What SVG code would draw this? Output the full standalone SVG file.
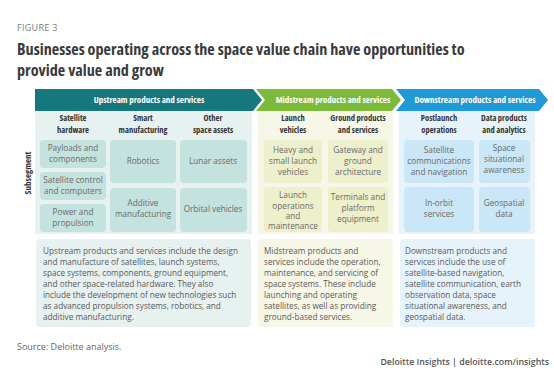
<svg xmlns="http://www.w3.org/2000/svg" width="554" height="383" viewBox="0 0 554 383">
<style>
.fig{font-family:"Open Sans","Liberation Sans",sans-serif;font-size:9px;fill:#7a7a7a;letter-spacing:0.3px}
.title{font-family:"Open Sans","Liberation Sans",sans-serif;font-stretch:condensed;font-weight:bold;font-size:16.2px;fill:#3a3a3a}
.hdr{font-family:"Open Sans","Liberation Sans",sans-serif;font-stretch:condensed;font-weight:bold;font-size:9px;fill:#ffffff;text-anchor:middle}
.col{font-family:"Open Sans","Liberation Sans",sans-serif;font-stretch:condensed;font-weight:bold;font-size:8.5px;fill:#333;text-anchor:middle}
.seg{font-family:"Open Sans","Liberation Sans",sans-serif;font-stretch:condensed;font-weight:bold;font-size:9px;fill:#333;text-anchor:middle}
.sub{font-family:"Open Sans","Liberation Sans",sans-serif;font-size:8.2px;fill:#6a6a6a;text-anchor:middle}
.desc{font-family:"Open Sans","Liberation Sans",sans-serif;font-size:8.2px;fill:#5a5a5a}
.foot{font-family:"Open Sans","Liberation Sans",sans-serif;font-size:9px;fill:#666}
.brand{font-family:"Open Sans","Liberation Sans",sans-serif;font-size:8.8px;font-weight:600;fill:#555;text-anchor:end}
.up-p{fill:#e6f1f0}.up-b{fill:#c4e3df}
.mid-p{fill:#f6f7e6}.mid-b{fill:#eef0cc}
.dn-p{fill:#e7f3fb}.dn-b{fill:#c9e7f6}
</style>
<text class="fig" x="17" y="31">FIGURE 3</text>
<text class="title" x="17" y="55">Businesses operating across the space value chain have opportunities to</text>
<text class="title" x="17" y="75.5">provide value and grow</text>

<g id="subsegment-label"><text class="seg" transform="translate(31,173) rotate(-90)">Subsegment</text></g>

<g id="upstream">
<polygon points="35,89 253,89 262,100 253,111 35,111" fill="#16777d"/>
<text class="hdr" x="149" y="103">Upstream products and services</text>
<rect class="up-p" x="35" y="111" width="217" height="123"/>
<text class="col" x="73" y="121">Satellite</text><text class="col" x="73" y="133">hardware</text>
<text class="col" x="143" y="121">Smart</text><text class="col" x="143" y="133">manufacturing</text>
<text class="col" x="213" y="121">Other</text><text class="col" x="213" y="133">space assets</text>
<g id="payloads"><rect class="up-b" x="40" y="140" width="66" height="28" rx="4"/><text class="sub" x="73" y="151">Payloads and</text><text class="sub" x="73" y="162">components</text></g>
<g id="satcontrol"><rect class="up-b" x="40" y="172" width="66" height="28" rx="4"/><text class="sub" x="73" y="183">Satellite control</text><text class="sub" x="73" y="194">and computers</text></g>
<g id="power"><rect class="up-b" x="40" y="204" width="66" height="28" rx="4"/><text class="sub" x="73" y="215">Power and</text><text class="sub" x="73" y="226">propulsion</text></g>
<g id="robotics"><rect class="up-b" x="110" y="140" width="66" height="43" rx="4"/><text class="sub" x="143" y="164">Robotics</text></g>
<g id="additive"><rect class="up-b" x="110" y="188" width="66" height="44" rx="4"/><text class="sub" x="143" y="206">Additive</text><text class="sub" x="143" y="217">manufacturing</text></g>
<g id="lunar"><rect class="up-b" x="180" y="140" width="67" height="43" rx="4"/><text class="sub" x="213" y="164">Lunar assets</text></g>
<g id="orbital"><rect class="up-b" x="180" y="188" width="67" height="44" rx="4"/><text class="sub" x="213" y="212">Orbital vehicles</text></g>
<g id="up-desc"><rect class="up-p" x="36" y="239" width="215" height="88" rx="4"/>
<text class="desc" x="43" y="254">Upstream products and services include the design</text>
<text class="desc" x="43" y="265">and manufacture of satellites, launch systems,</text>
<text class="desc" x="43" y="276">space systems, components, ground equipment,</text>
<text class="desc" x="43" y="287">and other space-related hardware. They also</text>
<text class="desc" x="43" y="298">include the development of new technologies such</text>
<text class="desc" x="43" y="309">as advanced propulsion systems, robotics, and</text>
<text class="desc" x="43" y="320">additive manufacturing.</text></g>
</g>

<g id="midstream">
<polygon points="256,89 392,89 401,100 392,111 256,111 265,100" fill="#7cbb3a"/>
<text class="hdr" x="333" y="103">Midstream products and services</text>
<rect class="mid-p" x="258" y="111" width="135" height="123"/>
<text class="col" x="293" y="121">Launch</text><text class="col" x="293" y="133">vehicles</text>
<text class="col" x="358" y="121">Ground products</text><text class="col" x="358" y="133">and services</text>
<g id="heavy"><rect class="mid-b" x="264" y="140" width="58" height="43" rx="4"/><text class="sub" x="293" y="153">Heavy and</text><text class="sub" x="293" y="164">small launch</text><text class="sub" x="293" y="175">vehicles</text></g>
<g id="launchops"><rect class="mid-b" x="264" y="187" width="58" height="45" rx="4"/><text class="sub" x="293" y="198">Launch</text><text class="sub" x="293" y="209">operations</text><text class="sub" x="293" y="219">and</text><text class="sub" x="293" y="229">maintenance</text></g>
<g id="gateway"><rect class="mid-b" x="328" y="140" width="60" height="43" rx="4"/><text class="sub" x="358" y="153">Gateway and</text><text class="sub" x="358" y="164">ground</text><text class="sub" x="358" y="175">architecture</text></g>
<g id="terminals"><rect class="mid-b" x="328" y="187" width="60" height="45" rx="4"/><text class="sub" x="358" y="200">Terminals and</text><text class="sub" x="358" y="211">platform</text><text class="sub" x="358" y="222">equipment</text></g>
<g id="mid-desc"><rect class="mid-p" x="258" y="239" width="135" height="88" rx="4"/>
<text class="desc" x="264" y="254">Midstream products and</text>
<text class="desc" x="264" y="265">services include the operation,</text>
<text class="desc" x="264" y="276">maintenance, and servicing of</text>
<text class="desc" x="264" y="287">space systems. These include</text>
<text class="desc" x="264" y="298">launching and operating</text>
<text class="desc" x="264" y="309">satellites, as well as providing</text>
<text class="desc" x="264" y="320">ground-based services.</text></g>
</g>

<g id="downstream">
<polygon points="396,89 539,89 548,100 539,111 396,111 405,100" fill="#1f9ad6"/>
<text class="hdr" x="475" y="103">Downstream products and services</text>
<rect class="dn-p" x="399" y="111" width="136" height="123"/>
<text class="col" x="439" y="121">Postlaunch</text><text class="col" x="439" y="133">operations</text>
<text class="col" x="504" y="121">Data products</text><text class="col" x="504" y="133">and analytics</text>
<g id="satcomms"><rect class="dn-b" x="404" y="140" width="70" height="43" rx="4"/><text class="sub" x="439" y="153">Satellite</text><text class="sub" x="439" y="164">communications</text><text class="sub" x="439" y="175">and navigation</text></g>
<g id="inorbit"><rect class="dn-b" x="404" y="187" width="70" height="45" rx="4"/><text class="sub" x="439" y="206">In-orbit</text><text class="sub" x="439" y="217">services</text></g>
<g id="ssa"><rect class="dn-b" x="479" y="140" width="51" height="43" rx="4"/><text class="sub" x="504" y="151">Space</text><text class="sub" x="504" y="162">situational</text><text class="sub" x="504" y="173">awareness</text></g>
<g id="geo"><rect class="dn-b" x="479" y="187" width="51" height="45" rx="4"/><text class="sub" x="504" y="206">Geospatial</text><text class="sub" x="504" y="217">data</text></g>
<g id="dn-desc"><rect class="dn-p" x="400" y="239" width="135" height="88" rx="4"/>
<text class="desc" x="405" y="254">Downstream products and</text>
<text class="desc" x="405" y="265">services include the use of</text>
<text class="desc" x="405" y="276">satellite-based navigation,</text>
<text class="desc" x="405" y="287">satellite communication, earth</text>
<text class="desc" x="405" y="298">observation data, space</text>
<text class="desc" x="405" y="309">situational awareness, and</text>
<text class="desc" x="405" y="320">geospatial data.</text></g>
</g>

<g id="connectors"></g>

<text class="foot" x="17" y="350">Source: Deloitte analysis.</text>
<text class="brand" x="549" y="365">Deloitte Insights | deloitte.com/insights</text>
</svg>
